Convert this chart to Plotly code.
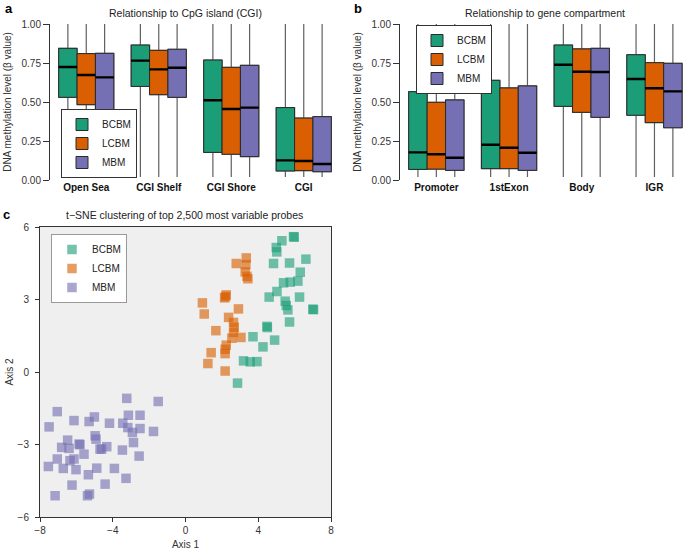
import plotly.graph_objects as go

groups = ["BCBM", "LCBM", "MBM"]
colors = {"BCBM": "#1b9e77", "LCBM": "#d95f02", "MBM": "#7570b3"}

# Panel a: relationship to CpG island
cgi_cats = ["Open Sea", "CGI Shelf", "CGI Shore", "CGI"]
cgi_q1 = {"BCBM": [0.530, 0.600, 0.177, 0.058],
          "LCBM": [0.483, 0.547, 0.165, 0.060],
          "MBM": [0.440, 0.530, 0.150, 0.053]}
cgi_med = {"BCBM": [0.724, 0.765, 0.511, 0.126],
           "LCBM": [0.673, 0.709, 0.455, 0.122],
           "MBM": [0.658, 0.720, 0.464, 0.103]}
cgi_q3 = {"BCBM": [0.844, 0.865, 0.769, 0.464],
          "LCBM": [0.810, 0.831, 0.722, 0.397],
          "MBM": [0.812, 0.838, 0.735, 0.406]}
cgi_lo = [0.02, 0.02, 0.02, 0.02]
cgi_hi = [1.0, 1.0, 1.0, 1.0]

# Panel b: relationship to gene compartment
gene_cats = ["Promoter", "1stExon", "Body", "IGR"]
gene_q1 = {"BCBM": [0.068, 0.073, 0.472, 0.415],
           "LCBM": [0.070, 0.073, 0.434, 0.368],
           "MBM": [0.062, 0.062, 0.402, 0.335]}
gene_med = {"BCBM": [0.177, 0.226, 0.739, 0.647],
            "LCBM": [0.165, 0.207, 0.694, 0.588],
            "MBM": [0.143, 0.175, 0.692, 0.568]}
gene_q3 = {"BCBM": [0.566, 0.639, 0.865, 0.803],
           "LCBM": [0.498, 0.590, 0.840, 0.752],
           "MBM": [0.513, 0.603, 0.844, 0.748]}
gene_lo = [0.02, 0.02, 0.02, 0.02]
gene_hi = [1.0, 1.0, 1.0, 1.0]

# Panel c: t-SNE coordinates
bcbm_x = [5.94, 5.98, 5.30, 4.99, 5.02, 4.84, 5.72, 6.62, 6.31, 6.18, 5.76, 5.39, 5.03,
          4.60, 6.27, 5.48, 5.54, 5.63, 7.04, 7.00, 5.72, 4.48, 4.50, 4.90, 3.71, 4.26,
          3.19, 3.56, 3.93, 2.86]
bcbm_y = [5.60, 5.58, 5.43, 5.15, 4.97, 4.49, 4.51, 4.67, 4.13, 3.76, 3.72, 3.69, 3.33,
          3.10, 3.10, 2.93, 2.75, 2.57, 2.58, 2.60, 2.07, 1.89, 1.84, 1.32, 1.46, 1.04,
          0.46, 0.42, 0.43, -0.46]
lcbm_x = [3.34, 2.79, 3.32, 3.28, 3.38, 3.43, 2.24, 2.15, 0.93, 1.03, 2.91, 2.37, 2.64,
          2.68, 1.67, 2.64, 2.55, 3.05, 2.24, 2.18, 1.41, 2.18, 1.23, 2.18, 2.20]
lcbm_y = [4.72, 4.49, 4.44, 4.14, 3.96, 3.86, 3.19, 3.07, 2.86, 2.40, 2.61, 2.26, 2.05,
          1.85, 1.71, 1.64, 1.40, 1.43, 1.11, 0.94, 0.80, 0.76, 0.35, 0.04, 3.12]
mbm_x = [-3.23, -1.50, -7.05, -3.14, -2.50, -5.01, -6.13, -5.30, -4.18, -3.45, -7.50,
         -3.17, -2.50, -1.76, -2.92, -4.97, -4.92, -2.86, -6.48, -6.81, -6.40, -5.85,
         -5.80, -4.33, -4.70, -4.61, -3.47, -5.58, -2.55, -7.05, -6.13, -6.35, -7.54,
         -6.72, -6.02, -4.88, -3.91, -5.34, -3.27, -6.24, -4.42, -7.17, -5.39, -5.28]
mbm_y = [-1.09, -1.22, -1.64, -1.79, -1.79, -1.86, -2.01, -2.05, -2.12, -2.12, -2.27,
         -2.30, -2.34, -2.46, -2.50, -2.64, -2.78, -2.92, -2.82, -3.12, -3.16, -2.98,
         -3.01, -3.09, -3.19, -3.19, -3.23, -3.40, -3.48, -3.60, -3.60, -3.67, -3.91,
         -3.99, -4.04, -3.98, -3.99, -4.25, -4.40, -4.68, -4.64, -5.12, -5.12, -5.05]

FONT = "Liberation Sans, Arial, sans-serif"
fig = go.Figure()


def add_boxes(xa, ya, legend_name, q1s, meds, q3s, lo, hi, n):
    pos = list(range(n))
    for g in groups:
        # whiskers
        fig.add_trace(go.Box(
            x=pos, q1=q1s[g], median=meds[g], q3=q3s[g], lowerfence=lo, upperfence=hi,
            fillcolor="rgba(0,0,0,0)", line=dict(color="#606060", width=1.2),
            whiskerwidth=0, offsetgroup=g, xaxis=xa, yaxis=ya, showlegend=False,
            hoverinfo="skip", name=g))
    for g in groups:
        # boxes
        fig.add_trace(go.Box(
            x=pos, q1=q1s[g], median=meds[g], q3=q3s[g], lowerfence=q1s[g], upperfence=q3s[g],
            fillcolor=colors[g], line=dict(color="#2a2a2a", width=1),
            whiskerwidth=0, offsetgroup=g, xaxis=xa, yaxis=ya, showlegend=True,
            legend=legend_name, name=g))
    for g in groups:
        # medians
        fig.add_trace(go.Box(
            x=pos, q1=meds[g], median=meds[g], q3=meds[g], lowerfence=meds[g], upperfence=meds[g],
            fillcolor="black", line=dict(color="black", width=2.4),
            whiskerwidth=0, offsetgroup=g, xaxis=xa, yaxis=ya, showlegend=False,
            hoverinfo="skip", name=g))


add_boxes("x", "y", "legend", cgi_q1, cgi_med, cgi_q3, cgi_lo, cgi_hi, len(cgi_cats))
add_boxes("x2", "y2", "legend2", gene_q1, gene_med, gene_q3, gene_lo, gene_hi, len(gene_cats))

for g, xs, ys in [("BCBM", bcbm_x, bcbm_y), ("LCBM", lcbm_x, lcbm_y), ("MBM", mbm_x, mbm_y)]:
    fig.add_trace(go.Scatter(
        x=xs, y=ys, mode="markers", name=g, xaxis="x3", yaxis="y3", legend="legend3",
        marker=dict(symbol="square", size=9.5, color=colors[g], opacity=0.62, line=dict(width=0))))

H = 556.0
W = 685.0

box_y_axis = dict(range=[0, 1], tickvals=[0, 0.25, 0.5, 0.75, 1], tickformat=".2f",
                  showline=True, linecolor="#333", linewidth=1, ticks="outside", ticklen=6,
                  tickcolor="#333", showgrid=False, zeroline=False, automargin=False,
                  tickfont=dict(size=10, color="#333"),
                  title=dict(text="DNA methylation level (β value)", font=dict(size=10, color="#333"),
                             standoff=8))

legend_common = dict(xanchor="left", yanchor="top", bgcolor="white", borderwidth=1,
                     font=dict(size=10, color="#222"), itemwidth=30, tracegroupgap=0)

fig.update_layout(
    width=685, height=556, margin=dict(l=0, r=0, t=0, b=0, autoexpand=False),
    paper_bgcolor="white", plot_bgcolor="white",
    font=dict(family=FONT, size=10, color="#222"),
    boxmode="group", boxgap=0.24, boxgroupgap=0,
    xaxis=dict(domain=[50 / W, 340 / W], range=[-0.5, 3.5], tickvals=[0, 1, 2, 3],
               ticktext=["<b>%s</b>" % c for c in cgi_cats], showline=False, showgrid=False,
               zeroline=False, ticks="", tickfont=dict(size=10, color="#111"), anchor="y",
               automargin=False),
    yaxis=dict(domain=[1 - 180 / H, 1 - 24 / H], anchor="x", **box_y_axis),
    xaxis2=dict(domain=[400 / W, 1.0], range=[-0.5, 3.42], tickvals=[0, 1, 2, 3],
                ticktext=["<b>%s</b>" % c for c in gene_cats], showline=False, showgrid=False,
                zeroline=False, ticks="", tickfont=dict(size=10, color="#111"), anchor="y2",
                automargin=False),
    yaxis2=dict(domain=[1 - 180 / H, 1 - 24 / H], anchor="x2", **box_y_axis),
    xaxis3=dict(domain=[40 / W, 331 / W], range=[-8, 8], tickvals=[-8, -4, 0, 4, 8],
                showline=True, mirror=True, linecolor="#333", linewidth=1, ticks="outside",
                ticklen=4, tickcolor="#333", showgrid=False, zeroline=False, automargin=False,
                tickfont=dict(size=10, color="#333"), anchor="y3",
                title=dict(text="Axis 1", font=dict(size=10, color="#333"), standoff=5)),
    yaxis3=dict(domain=[1 - 517 / H, 1 - 227 / H], range=[-6, 6], tickvals=[-6, -3, 0, 3, 6],
                showline=True, mirror=True, linecolor="#333", linewidth=1, ticks="outside",
                ticklen=4, tickcolor="#333", showgrid=False, zeroline=False, automargin=False,
                ticklabelstandoff=4,
                tickfont=dict(size=10, color="#333"), anchor="x3",
                title=dict(text="Axis 2", font=dict(size=10, color="#333"), standoff=2)),
    legend=dict(x=61 / W, y=1 - 109 / H, bordercolor="#333", **legend_common),
    legend2=dict(x=416 / W, y=1 - 25 / H, bordercolor="#333", **legend_common),
    legend3=dict(x=51 / W, y=1 - 234 / H, bordercolor="#999", **legend_common),
    shapes=[dict(type="rect", xref="x3 domain", yref="y3 domain", x0=0, x1=1, y0=0, y1=1,
                 fillcolor="#efefef", line=dict(width=0), layer="below")],
    annotations=[
        dict(text="<b>a</b>", x=3 / W, y=1 - 8 / H, xref="paper", yref="paper", showarrow=False,
             xanchor="left", yanchor="middle", font=dict(size=13, color="black")),
        dict(text="<b>b</b>", x=352 / W, y=1 - 8 / H, xref="paper", yref="paper", showarrow=False,
             xanchor="left", yanchor="middle", font=dict(size=13, color="black")),
        dict(text="<b>c</b>", x=1 / W, y=1 - 214 / H, xref="paper", yref="paper", showarrow=False,
             xanchor="left", yanchor="middle", font=dict(size=13, color="black")),
        dict(text="Relationship to CpG island (CGI)", x=185 / W, y=1 - 13 / H, xref="paper",
             yref="paper", showarrow=False, xanchor="center", yanchor="middle",
             font=dict(size=10.5, color="#222")),
        dict(text="Relationship to gene compartment", x=545 / W, y=1 - 13 / H, xref="paper",
             yref="paper", showarrow=False, xanchor="center", yanchor="middle",
             font=dict(size=10.5, color="#222")),
        dict(text="t−SNE clustering of top 2,500 most variable probes", x=184 / W,
             y=1 - 215 / H, xref="paper", yref="paper", showarrow=False, xanchor="center",
             yanchor="middle", font=dict(size=10.5, color="#222")),
    ],
)

fig.write_html("out.html", config={"displayModeBar": False},
               post_script="document.body.style.margin='0px';document.body.style.overflow='hidden';")
